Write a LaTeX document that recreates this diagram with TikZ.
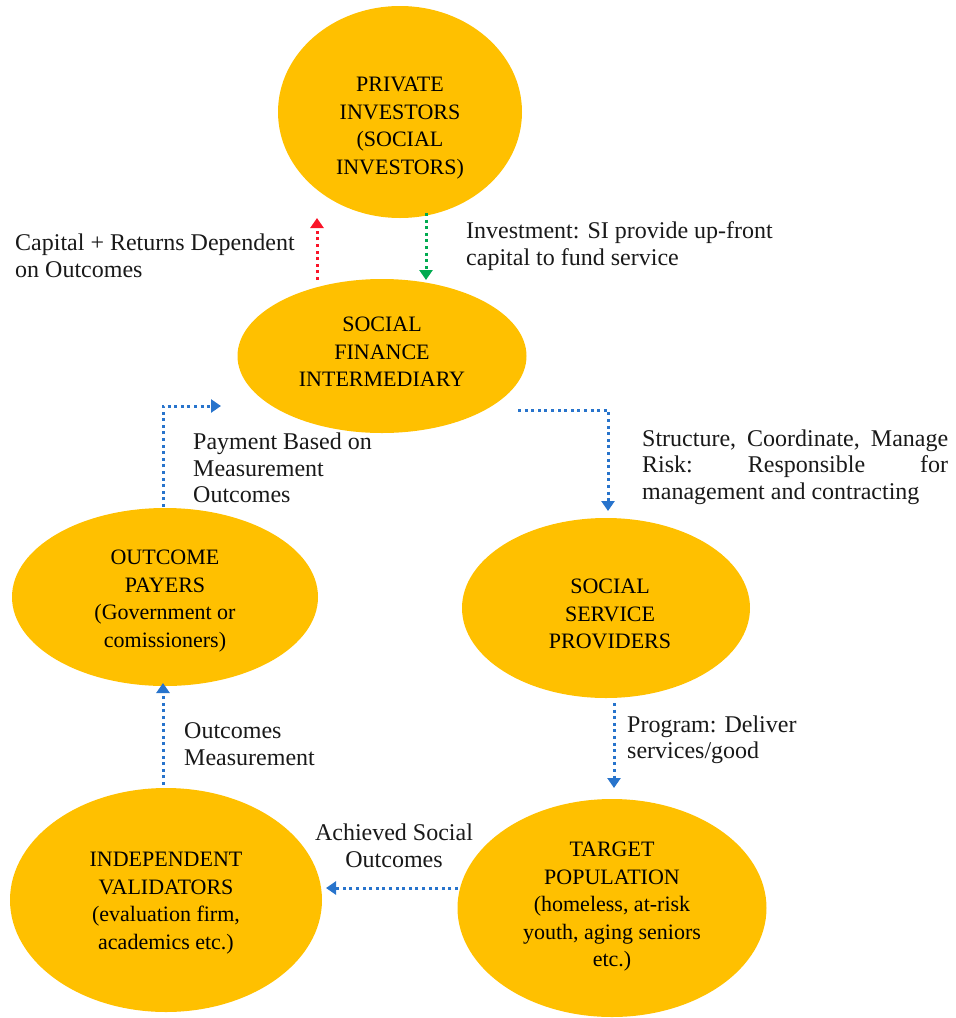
\documentclass[tikz,border=0pt]{standalone}
\usepackage{fontspec}
\IfFontExistsTF{LiberationSerif-Regular.ttf}
  {\setmainfont{LiberationSerif}[Extension=.ttf, UprightFont=*-Regular, BoldFont=*-Bold, ItalicFont=*-Italic]}
  {\setmainfont{Liberation Serif}}
\usetikzlibrary{shapes.geometric,arrows.meta}
\definecolor{gold}{RGB}{255,192,0}
\definecolor{flowblue}{RGB}{40,116,204}
\definecolor{flowred}{RGB}{250,20,40}
\definecolor{flowgreen}{RGB}{0,170,80}
\definecolor{ink}{RGB}{25,25,25}

\begin{document}
\begin{tikzpicture}[x=1pt,y=-1pt,
  actor/.style={ellipse, fill=gold, inner sep=0pt},
  actortext/.style={align=center, font=\fontsize{22}{27.5}\selectfont, text=black, inner sep=0pt},
  note/.style={align=left, font=\fontsize{24}{26.5}\selectfont, text=ink, inner sep=0pt, anchor=west},
  flow/.style={line width=3pt, dash pattern=on 3pt off 3.6pt, -{Triangle[width=13pt,length=10pt]}},
]
\useasboundingbox (0,0) rectangle (956,1018);

% the six actors
\node[actor, minimum width=244pt, minimum height=212pt] (pi)  at (400,112) {};
\node[actor, minimum width=289pt, minimum height=154pt] (sfi) at (382,356) {};
\node[actor, minimum width=306pt, minimum height=178pt] (op)  at (165,597) {};
\node[actor, minimum width=288pt, minimum height=180pt] (ssp) at (606,608) {};
\node[actor, minimum width=312pt, minimum height=224pt] (iv)  at (166,900) {};
\node[actor, minimum width=309pt, minimum height=218pt] (tp)  at (612,908) {};

\node[actortext] (pit)  at (400,128) {PRIVATE\\INVESTORS\\(SOCIAL\\INVESTORS)};
\node[actortext] (sfit) at (382,352) {SOCIAL\\FINANCE\\INTERMEDIARY};
\node[actortext] (opt)  at (165,601) {OUTCOME\\PAYERS\\(Government or\\comissioners)};
\node[actortext] (sspt) at (610,614) {SOCIAL\\SERVICE\\PROVIDERS};
\node[actortext] (ivt)  at (166,903) {INDEPENDENT\\VALIDATORS\\(evaluation firm,\\academics etc.)};
\node[actortext] (tpt)  at (612,907) {TARGET\\POPULATION\\(homeless, at-risk\\youth, aging seniors\\etc.)};

% connector end points
\coordinate (ret-from) at (317,280);
\coordinate (ret-to)   at (317,218);
\coordinate (inv-from) at (426,213);
\coordinate (inv-to)   at (426,280);
\coordinate (pay-from) at (163,507);
\coordinate (pay-to)   at (221,406);
\coordinate (str-from) at (518,410);
\coordinate (str-to)   at (608,511);
\coordinate (prg-from) at (614,703);
\coordinate (prg-to)   at (614,788);
\coordinate (ach-from) at (458,888);
\coordinate (ach-to)   at (326,888);
\coordinate (msr-from) at (163,785);
\coordinate (msr-to)   at (163,683);

% connectors
\draw[flow, flowred]   (ret-from) -- (ret-to);
\draw[flow, flowgreen] (inv-from) -- (inv-to);
\draw[flow, flowblue]  (pay-from) |- (pay-to);
\draw[flow, flowblue]  (str-from) -| (str-to);
\draw[flow, flowblue]  (prg-from) -- (prg-to);
\draw[flow, flowblue]  (ach-from) -- (ach-to);
\draw[flow, flowblue]  (msr-from) -- (msr-to);

% flow labels
\node[note] (l-ret) at (15,256) {Capital + Returns Dependent\\on Outcomes};
\node[note] (l-inv) at (466,246) {Investment: SI provide up-front\\capital to fund service};
\node[note] (l-pay) at (193,468) {Payment Based on\\Measurement\\Outcomes};
\node[note] (l-str) at (642,467) {\hbox to 306pt{Structure,\hfill Coordinate,\hfill Manage}\\\hbox to 306pt{Risk:\hfill Responsible\hfill for}\\management and contracting};
\node[note] (l-prg) at (627,740) {Program: Deliver\\services/good};
\node[note] (l-msr) at (184,744) {Outcomes\\Measurement};
\node[note, align=center, anchor=center] (l-ach) at (394,846) {Achieved Social\\Outcomes};
\end{tikzpicture}
\end{document}
